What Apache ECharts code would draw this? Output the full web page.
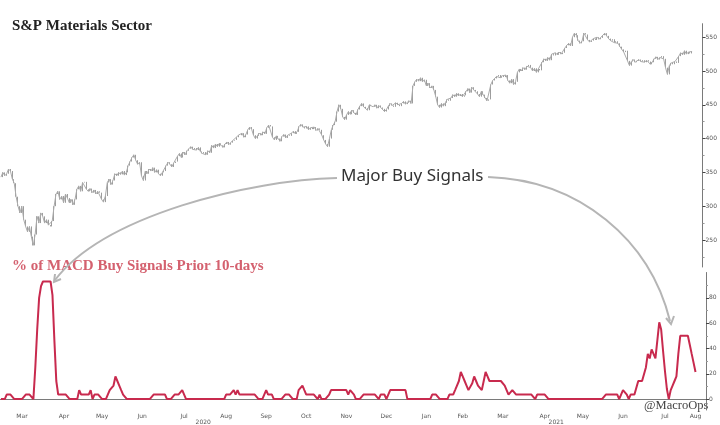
<!DOCTYPE html>
<html>
<head>
<meta charset="utf-8">
<script src="https://cdn.jsdelivr.net/npm/echarts@6/dist/echarts.min.js"></script>
<style>
  html, body { margin: 0; padding: 0; background: #fff; }
  #chart { width: 720px; height: 425px; }
</style>
</head>
<body>
<div id="chart"></div>
<script>
// trading calendar
const firstDay = "2020-02-28";
const lastDay = "2021-08-16";
const holidays = [
  "2020-04-10", "2020-05-25", "2020-07-03", "2020-09-07", "2020-11-26", "2020-12-25",
  "2021-01-01", "2021-01-18", "2021-02-15", "2021-04-02", "2021-05-31", "2021-07-05"
];
const monthNames = ["Jan", "Feb", "Mar", "Apr", "May", "Jun", "Jul", "Aug", "Sep", "Oct", "Nov", "Dec"];

const priceTicks = [250, 300, 350, 400, 450, 500, 550];
const priceMinor = [225, 275, 325, 375, 425, 475, 525];
const signalTicks = [0, 20, 40, 60, 80];
const signalMinor = [10, 30, 50, 70, 90];

// S&P Materials sector, daily close
const closes = [
  343, 350, 345, 348, 355, 352, 340, 334, 314, 300,
  290, 300, 280, 270, 262, 270, 255, 242, 258, 285,
  275, 290, 285, 275, 280, 272, 270, 278, 300, 318,
  322, 310, 315, 305, 318, 312, 305, 310, 302, 310,
  325, 330, 322, 335, 336, 325, 322, 326, 320, 324,
  318, 322, 320, 310, 306, 315, 335, 340, 332, 338,
  348, 345, 350, 347, 352, 346, 350, 360, 366, 372,
  376, 368, 362, 365, 345, 338, 352, 348, 355, 352,
  357, 350, 354, 348, 345, 350, 352, 360, 365, 362,
  358, 364, 366, 374, 378, 372, 380, 376, 382, 385,
  388, 384, 386, 383, 387, 381, 378, 380, 376, 382,
  379, 390, 386, 392, 388, 393, 390, 387, 392, 395,
  391, 394, 397, 398, 402, 405, 405, 408, 402, 406,
  413, 417, 414, 405, 400, 404, 408, 405, 410, 407,
  416, 420, 418, 402, 398, 404, 400, 396, 403, 406,
  401, 405, 404, 408, 411, 407, 410, 418, 421, 417,
  415, 418, 413, 416, 414, 417, 412, 415, 413, 405,
  398, 392, 388, 400, 413, 420, 425, 440, 450, 444,
  432, 428, 435, 440, 436, 442, 438, 435, 443, 448,
  452, 447, 445, 442, 450, 448, 447, 450, 445, 449,
  446, 444, 440, 443, 448, 452, 449, 447, 453, 450,
  448, 452, 455, 451, 453, 456, 452, 478, 484, 488,
  485, 490, 484, 487, 478, 482, 475, 478, 472, 462,
  450, 446, 452, 448, 453, 458, 456, 460, 465, 462,
  467, 463, 466, 462, 464, 470, 474, 468, 476, 472,
  470, 466, 462, 470, 465, 460, 456, 458, 480, 486,
  489, 492, 494, 490, 493, 491, 494, 486, 482, 488,
  480, 484, 498, 503, 500, 505, 502, 507, 509, 505,
  500, 504, 498, 503, 501, 513, 518, 515, 520, 516,
  525, 523, 527, 524, 528, 525, 527, 534, 538, 541,
  537, 550, 556, 553, 545, 541, 544, 556, 554, 546,
  543, 545, 548, 546, 550, 547, 549, 553, 556, 552,
  548, 545, 547, 542, 544, 541, 536, 532, 528, 530,
  515, 508, 514, 517, 513, 515, 517, 514, 516, 513,
  516, 514, 510, 513, 518, 521, 517, 520, 522, 518,
  505, 495, 508, 512, 510, 514, 512, 522, 527, 524,
  530, 525, 528, 526, 529
];

// % of MACD buy signals over prior 10 days
const signals = [
  0, 0, 0, 3.6, 3.6, 3.6, 3.6, 0, 0, 0,
  0, 0, 0, 3.6, 3.6, 3.6, 3.6, 0, 25, 55,
  80, 89.3, 92.9, 92.9, 92.9, 92.9, 92.9, 82.1, 46.4, 14.3,
  3.6, 3.6, 3.6, 3.6, 3.6, 3.6, 0, 0, 0, 0,
  0, 7.1, 3.6, 3.6, 3.6, 3.6, 3.6, 7.1, 0, 3.6,
  3.6, 3.6, 3.6, 0, 0, 0, 0, 7.1, 7.1, 10.7,
  17.9, 14.3, 10.7, 7.1, 3.6, 3.6, 0, 0, 0, 0,
  0, 0, 0, 0, 0, 0, 0, 0, 0, 0,
  3.6, 3.6, 3.6, 3.6, 3.6, 3.6, 3.6, 0, 0, 0,
  0, 3.6, 3.6, 3.6, 3.6, 7.1, 3.6, 0, 0, 0,
  0, 0, 0, 0, 0, 0, 0, 0, 0, 0,
  0, 0, 0, 0, 0, 0, 0, 0, 3.6, 3.6,
  3.6, 3.6, 7.1, 3.6, 7.1, 3.6, 3.6, 3.6, 3.6, 3.6,
  3.6, 3.6, 3.6, 3.6, 3.6, 0, 0, 0, 3.6, 7.1,
  3.6, 3.6, 3.6, 0, 0, 0, 0, 0, 0, 3.6,
  3.6, 3.6, 3.6, 0, 0, 0, 7.1, 7.1, 10.7, 7.1,
  3.6, 3.6, 3.6, 3.6, 3.6, 3.6, 0, 3.6, 0, 0,
  0, 0, 3.6, 7.1, 7.1, 7.1, 7.1, 7.1, 7.1, 7.1,
  7.1, 7.1, 3.6, 7.1, 7.1, 3.6, 0, 0, 0, 0,
  3.6, 3.6, 3.6, 3.6, 3.6, 3.6, 3.6, 3.6, 0, 3.6,
  3.6, 3.6, 0, 0, 7.1, 7.1, 7.1, 7.1, 7.1, 7.1,
  7.1, 7.1, 7.1, 0, 0, 0, 0, 0, 0, 0,
  0, 0, 0, 0, 0, 0, 3.6, 3.6, 3.6, 3.6,
  0, 0, 0, 0, 0, 3.6, 3.6, 3.6, 7.1, 10.7,
  14.3, 21.4, 17.9, 14.3, 10.7, 7.1, 7.1, 12.5, 17.9, 14.3,
  10.7, 10.7, 7.1, 14.3, 21.4, 17.9, 14.3, 14.3, 14.3, 14.3,
  14.3, 14.3, 14.3, 14.3, 10.7, 10.7, 3.6, 3.6, 7.1, 7.1,
  3.6, 3.6, 3.6, 3.6, 3.6, 3.6, 3.6, 3.6, 3.6, 3.6,
  0, 3.6, 3.6, 3.6, 3.6, 3.6, 3.6, 0, 0, 0,
  0, 0, 0, 0, 0, 0, 0, 0, 0, 0,
  0, 0, 0, 0, 0, 0, 0, 0, 0, 0,
  0, 0, 0, 0, 0, 0, 0, 3.6, 3.6, 3.6,
  3.6, 3.6, 3.6, 3.6, 0, 3.6, 7.1, 7.1, 3.6, 0,
  3.6, 3.6, 3.6, 3.6, 14.3, 14.3, 14.3, 14.3, 25, 35.7,
  32.1, 39.3, 35.7, 32.1, 46.4, 60.7, 55, 38, 22, 8,
  0, 7.1, 10.7, 14.3, 17.9, 35.7, 50, 50, 50, 50,
  50, 42.9, 35.7, 28.6, 21.4
];

// build the trading-day categories
const days = [];
for (let t = Date.parse(firstDay); t <= Date.parse(lastDay); t += 864e5) {
  const d = new Date(t);
  const wd = d.getUTCDay();
  const s = d.toISOString().slice(0, 10);
  if (wd === 0 || wd === 6 || holidays.includes(s)) continue;
  days.push(s);
}

const monthFirst = {}, monthMid = {}, yearFirst = {}, yearMid = {};
const mGroups = {}, yGroups = {};
days.forEach((d, i) => {
  (mGroups[d.slice(0, 7)] = mGroups[d.slice(0, 7)] || []).push(i);
  (yGroups[d.slice(0, 4)] = yGroups[d.slice(0, 4)] || []).push(i);
});
Object.keys(mGroups).forEach(k => {
  const g = mGroups[k];
  monthFirst[g[0]] = true;
  if (g.length > 5) monthMid[g[Math.floor((g.length - 1) / 2)]] = monthNames[+k.slice(5) - 1];
});
Object.keys(yGroups).forEach(k => {
  const g = yGroups[k];
  yearFirst[g[0]] = true;
  yearMid[g[Math.floor((g.length - 1) / 2)]] = k;
});

const candles = closes.map((c, i) => {
  const o = i ? closes[i - 1] : c;
  return [o, c, Math.min(o, c), Math.max(o, c)];
});

const axisGray = "#7a7a7a";
const labelStyle = { fontSize: 6, color: "#555", fontFamily: "DejaVu Sans" };
const arrowGray = "#b5b5b5";
const barGray = "#727272";

const chart = echarts.init(document.getElementById("chart"));
chart.setOption({
  animation: false,
  backgroundColor: "#fff",
  grid: [
    { left: 0, right: 14, top: 23.7, height: 243.3 },
    { left: 0, right: 14, top: 272.5, height: 138.5 }
  ],
  xAxis: [
    { gridIndex: 0, type: "category", data: days, show: false },
    {
      gridIndex: 1, type: "category", data: days, position: "bottom",
      axisLine: { lineStyle: { color: axisGray, width: 1 } },
      axisTick: { interval: i => !!monthFirst[i] && i > 0, length: 3, lineStyle: { color: axisGray } },
      axisLabel: Object.assign({
        interval: i => i in monthMid,
        formatter: (v, i) => monthMid[i] || "",
        margin: 3
      }, labelStyle)
    },
    {
      gridIndex: 1, type: "category", data: days, position: "bottom",
      axisLine: { show: false },
      axisTick: { interval: i => !!yearFirst[i] && i > 0, length: 14, lineStyle: { color: axisGray } },
      axisLabel: Object.assign({
        interval: i => i in yearMid,
        formatter: (v, i) => yearMid[i] || "",
        margin: 9
      }, labelStyle)
    }
  ],
  yAxis: [
    {
      gridIndex: 0, type: "value", position: "right", min: 210, max: 570,
      axisLine: { show: true, lineStyle: { color: axisGray } },
      axisTick: { show: true, customValues: priceTicks, length: 3, lineStyle: { color: "#444" } },
      axisLabel: Object.assign({ customValues: priceTicks, margin: 3 }, labelStyle),
      splitLine: { show: false }
    },
    {
      gridIndex: 0, type: "value", position: "right", min: 210, max: 570,
      axisLine: { show: false },
      axisTick: { show: true, customValues: priceMinor, length: 2, lineStyle: { color: "#999" } },
      axisLabel: { show: false },
      splitLine: { show: false }
    },
    {
      gridIndex: 1, type: "value", position: "right", min: -8.6, max: 100,
      axisLine: { show: true, lineStyle: { color: axisGray } },
      axisTick: { show: true, customValues: signalTicks, length: 3, lineStyle: { color: "#444" } },
      axisLabel: Object.assign({ customValues: signalTicks, margin: 3 }, labelStyle),
      splitLine: { show: false }
    },
    {
      gridIndex: 1, type: "value", position: "right", min: -8.6, max: 100,
      axisLine: { show: false },
      axisTick: { show: true, customValues: signalMinor, length: 2, lineStyle: { color: "#999" } },
      axisLabel: { show: false },
      splitLine: { show: false }
    }
  ],
  series: [
    {
      type: "line", xAxisIndex: 0, yAxisIndex: 0, data: closes,
      showSymbol: false, lineStyle: { color: "#ababab", width: 1 }
    },
    {
      type: "candlestick", xAxisIndex: 0, yAxisIndex: 0, data: candles,
      barWidth: 1.3,
      itemStyle: { color: barGray, color0: barGray, borderColor: barGray, borderColor0: barGray, borderWidth: 0.7 }
    },
    {
      type: "line", xAxisIndex: 1, yAxisIndex: 2, data: signals,
      showSymbol: false, clip: false,
      lineStyle: { color: "#c82a4e", width: 2 }
    }
  ],
  graphic: [
    { type: "text", left: 12, top: 19, style: { text: "S&P Materials Sector", font: "bold 15px 'Liberation Serif'", fill: "#222" } },
    { type: "text", left: 12, top: 259, style: { text: "% of MACD Buy Signals Prior 10-days", font: "bold 15px 'Liberation Serif'", fill: "#d4616f" } },
    { type: "text", x: 341, y: 176, style: { text: "Major Buy Signals", font: "17px 'Noto Sans'", fill: "#333", verticalAlign: "middle" } },
    { type: "bezierCurve", shape: { x1: 337, y1: 178, cpx1: 250, cpy1: 180, cpx2: 105, cpy2: 215, x2: 55, y2: 280 },
      style: { stroke: arrowGray, lineWidth: 2, fill: null } },
    { type: "polyline", shape: { points: [[55, 274], [54, 282], [61, 279]] }, style: { stroke: arrowGray, lineWidth: 2, fill: null } },
    { type: "bezierCurve", shape: { x1: 488, y1: 177, cpx1: 580, cpy1: 180, cpx2: 650, cpy2: 240, x2: 670, y2: 321 },
      style: { stroke: arrowGray, lineWidth: 2, fill: null } },
    { type: "polyline", shape: { points: [[666, 318], [671, 324], [674, 316]] }, style: { stroke: arrowGray, lineWidth: 2, fill: null } },
    { type: "text", x: 644, y: 406, style: { text: "@MacroOps", font: "12.5px 'Liberation Serif'", fill: "#444", verticalAlign: "middle" } }
  ]
});
</script>
</body>
</html>
